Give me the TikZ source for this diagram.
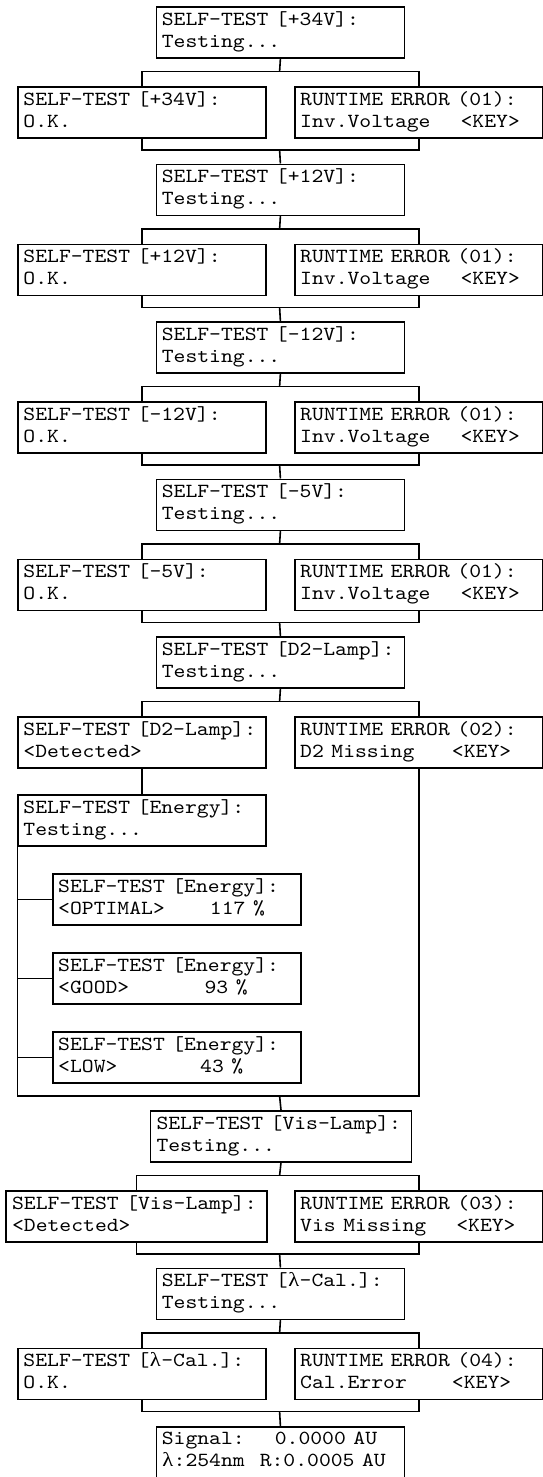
\documentclass[tikz,border=0pt]{standalone}
\usepackage{fontspec}
\usepackage{graphicx}
\newfontfamily\grkfont{Liberation Serif}
% display font: monospaced; every line is widened so that one
% character cell is 5.925pt
\newlength\lcdcw
\newcommand\lcdfont{\fontsize{10pt}{11pt}\selectfont\ttfamily\frenchspacing
  \setlength\lcdcw{\fontcharwd\font`M}%
  \fontdimen2\font=\lcdcw \fontdimen3\font=0pt \fontdimen4\font=0pt
  \pgfmathsetmacro\lcdsx{5.925pt/\lcdcw}}
\newcommand\lam{\makebox[\lcdcw][c]{\grkfont λ}}
\newcommand\lcdstrut{\rule[-3pt]{0pt}{9pt}}
\newcommand\lcd[2]{\lcdstrut\scalebox{\lcdsx}[1]{#1}\\\lcdstrut\scalebox{\lcdsx}[1]{#2}}
\tikzset{
  lcd/.style={draw, line width=0.8pt, anchor=north west, inner xsep=2.7pt,
    inner ysep=0pt, text width=118.6pt, minimum width=124pt,
    minimum height=25.5pt, align=left, font=\lcdfont},
  lcdwide/.style={lcd, text width=124.5pt, minimum width=130.5pt, inner xsep=3pt},
  wire/.style={line width=0.8pt}
}
\begin{document}
\begin{tikzpicture}[x=0.5pt,y=-0.5pt]
\fill[white] (0,0) rectangle (542,1477);
\useasboundingbox (0,0) rectangle (542,1477);

% voltage self-tests
\foreach \i/\v/\t in {0/+34V/6, 1/+12V/163.5, 2/-12V/321, 3/-5V/478.5}{
  \begin{scope}[shift={(0,\t)}]
    \node[lcd] (T\i) at (155.6,0) {\lcd{SELF-TEST [\v]:}{Testing...}};
    \node[lcd] (L\i) at (17.3,80) {\lcd{SELF-TEST [\v]:}{O.K.}};
    \node[lcd] (R\i) at (294,80) {\lcd{RUNTIME ERROR (01):}{Inv.Voltage~~~~<KEY>}};
    \coordinate (a\i) at (279.6,65.5);
    \coordinate (b\i) at (279.6,144);
  \end{scope}
}

% D2 lamp
\begin{scope}[shift={(0,636)}]
  \node[lcd] (T4) at (155.6,0) {\lcd{SELF-TEST [D2-Lamp]:}{Testing...}};
  \node[lcd] (L4) at (17.3,80) {\lcd{SELF-TEST [D2-Lamp]:}{<Detected>}};
  \node[lcd] (R4) at (294,80) {\lcd{RUNTIME ERROR (02):}{D2 Missing~~~~~<KEY>}};
  \coordinate (a4) at (279.6,65.5);
\end{scope}

\foreach \i in {0,...,3}{
  \pgfmathtruncatemacro\j{\i+1}
  \draw[wire] (T\i.south) -- (a\i);
  \draw[wire] (L\i.north) |- (a\i) -| (R\i.north);
  \draw[wire] (L\i.south) |- (b\i) -| (R\i.south);
  \draw[wire] (b\i) -- (T\j.north);
}
\draw[wire] (T4.south) -- (a4);
\draw[wire] (L4.north) |- (a4) -| (R4.north);

% energy test
\node[lcd] (E) at (17.3,794) {\lcd{SELF-TEST [Energy]:}{Testing...}};
\node[lcd] (E1) at (52,873) {\lcd{SELF-TEST [Energy]:}{<OPTIMAL>~~~~~~117 \%}};
\node[lcd] (E2) at (52,952) {\lcd{SELF-TEST [Energy]:}{<GOOD>~~~~~~~~~~93 \%}};
\node[lcd] (E3) at (52,1031) {\lcd{SELF-TEST [Energy]:}{<LOW>~~~~~~~~~~~43 \%}};
\coordinate (b4) at (279.6,1096);
\draw[wire] (L4.south) -- (E.north);
\foreach \k in {1,2,3}{
  \draw[wire] (E\k.west) -- (E\k.west -| E.west);
}
\draw[wire] (E.south west) |- (b4) -| (R4.south);

% visible lamp
\begin{scope}[shift={(0,1110)}]
  \node[lcdwide] (T5) at (149.7,0) {\lcd{SELF-TEST [Vis-Lamp]:}{Testing...}};
  \node[lcdwide] (L5) at (5.3,80) {\lcd{SELF-TEST [Vis-Lamp]:}{<Detected>}};
  \node[lcd] (R5) at (294,80) {\lcd{RUNTIME ERROR (03):}{Vis Missing~~~~<KEY>}};
  \coordinate (a5) at (279.6,65.5);
  \coordinate (b5) at (279.6,144);
\end{scope}
\draw[wire] (b4) -- (T5.north);
\draw[wire] (T5.south) -- (a5);
\draw[wire] (L5.north) |- (a5) -| (R5.north);
\draw[wire] (L5.south) |- (b5) -| (R5.south);

% wavelength calibration
\begin{scope}[shift={(0,1267.5)}]
  \node[lcd] (T6) at (155.6,0) {\lcd{SELF-TEST [\lam-Cal.]:}{Testing...}};
  \node[lcd] (L6) at (17.3,80) {\lcd{SELF-TEST [\lam-Cal.]:}{O.K.}};
  \node[lcd] (R6) at (294,80) {\lcd{RUNTIME ERROR (04):}{Cal.Error~~~~~~<KEY>}};
  \coordinate (a6) at (279.6,65.5);
  \coordinate (b6) at (279.6,144);
\end{scope}
\draw[wire] (b5) -- (T6.north);
\draw[wire] (T6.south) -- (a6);
\draw[wire] (L6.north) |- (a6) -| (R6.north);
\draw[wire] (L6.south) |- (b6) -| (R6.south);

% ready display
\node[lcd] (S) at (155.6,1426) {\lcd{Signal:~~~~0.0000 AU}{\lam:254nm~~R:0.0005 AU}};
\draw[wire] (b6) -- (S.north);
\end{tikzpicture}
\end{document}
